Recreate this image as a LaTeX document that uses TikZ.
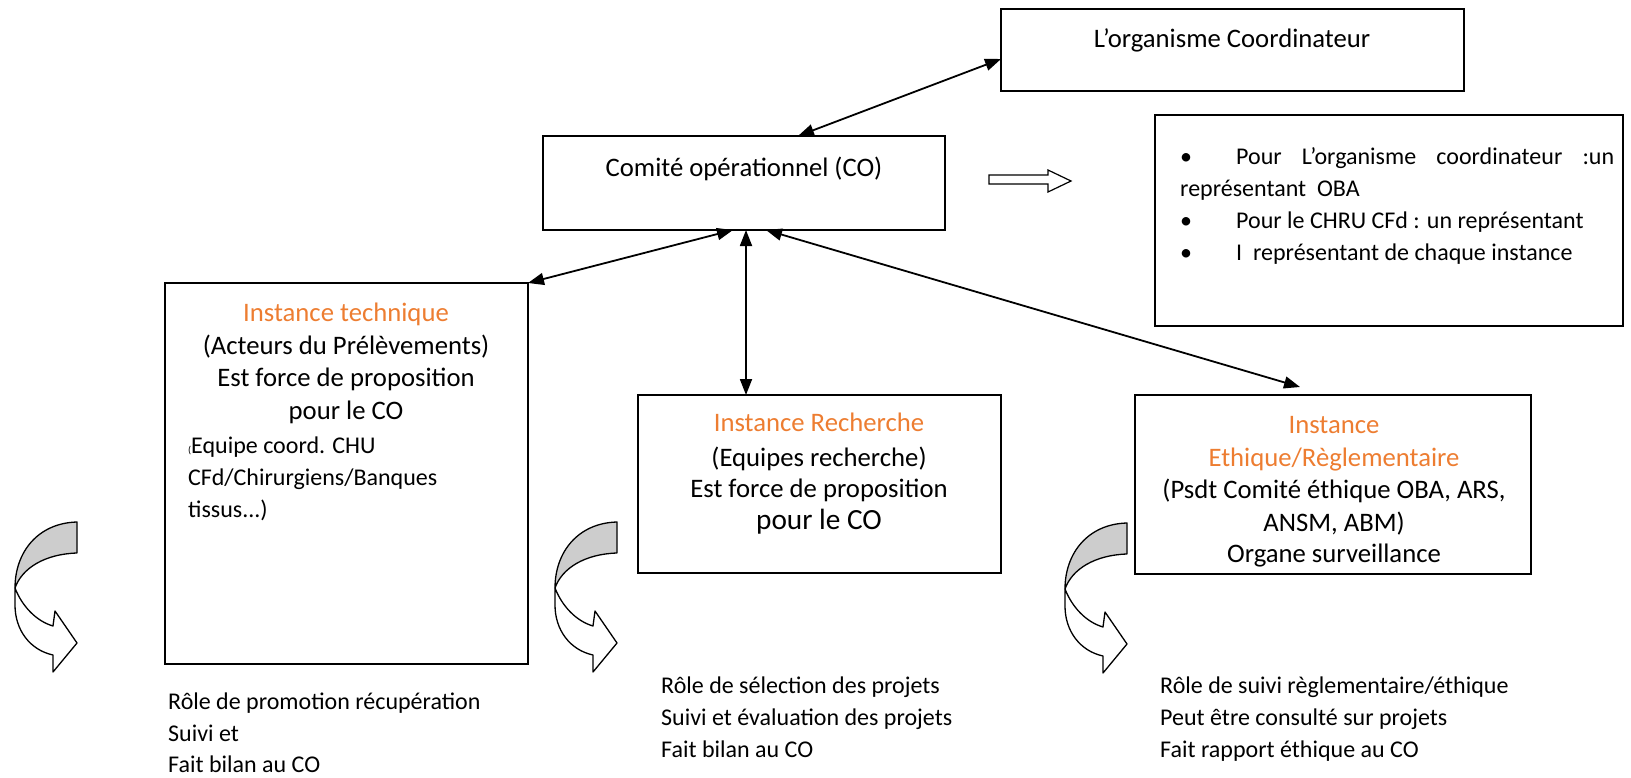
\documentclass[tikz,border=0pt]{standalone}
\usepackage{fontspec}
\setmainfont{Carlito}
\usetikzlibrary{arrows.meta}
\definecolor{orng}{RGB}{237,125,49}
\definecolor{arrgray}{RGB}{205,205,205}
\newcommand{\mycurvedarrow}[2]{%
\begin{scope}[shift={(#1,#2)}]
\draw[curv, fill=arrgray] (77,522) .. controls (38,523) and (15,552) .. (15,588) .. controls (22,568) and (45,554) .. (77,553) -- cycle;
\draw[curv, fill=white] (15,588) .. controls (22,606) and (36,621) .. (53,626) -- (55,611) -- (77,643) -- (53,672) -- (53,655) .. controls (30,650) and (15,630) .. (15,605) -- cycle;
\end{scope}}
\begin{document}
\begin{tikzpicture}[x=1pt,y=-1pt,
  box/.style={draw, line width=1.4pt, inner sep=0pt, outer sep=0pt, anchor=north west},
  big/.style={font=\fontsize{26.7}{32}\selectfont, inner sep=0pt, anchor=base},
  med/.style={font=\fontsize{24}{29}\selectfont, inner sep=0pt, anchor=base west},
  ttl/.style={big, text=orng},
  link/.style={line width=1.8pt, {Triangle[length=16pt,width=12pt]}-{Triangle[length=16pt,width=12pt]}},
  curv/.style={line width=1.3pt, line join=round}
]
\useasboundingbox (0,0) rectangle (1631,777);

% boxes
\node[box, minimum width=463pt, minimum height=82pt] (coord) at (1001,9) {};
\node[box, minimum width=402pt, minimum height=94pt] (co) at (543,136) {};
\node[box, minimum width=468pt, minimum height=211pt] (memb) at (1155,115) {};
\node[box, minimum width=363pt, minimum height=381pt] (tech) at (165,283) {};
\node[box, minimum width=363pt, minimum height=178pt] (rech) at (638,395) {};
\node[box, minimum width=396pt, minimum height=179pt] (ethi) at (1135,395) {};

% top texts
\node[big] (tcoord) at (1232,47) {L’organisme Coordinateur};
\node[big] (tco) at (744,176) {Comité opérationnel (CO)};

% members list
\node[med, anchor=base] (b1) at (1186,164) {\textbullet};
\node[med, anchor=base] (b2) at (1186,228) {\textbullet};
\node[med, anchor=base] (b3) at (1186,260) {\textbullet};
\node[med] (m1) at (1236,164) {\makebox[378pt][s]{Pour L’organisme coordinateur :un}};
\node[med] (m2) at (1180,196) {représentant\ \ OBA};
\node[med] (m3) at (1236,228) {Pour le CHRU CFd : un représentant};
\node[med] (m4) at (1236,260) {I\ \ représentant de chaque instance};

% instance technique
\node[ttl] (t1) at (346,321) {Instance technique};
\node[big] (t2) at (346,354) {(Acteurs du Prélèvements)};
\node[big] (t3) at (346,386) {Est force de proposition};
\node[big] (t4) at (346,419) {pour le CO};
\node[med] (t5) at (188,453) {{\fontsize{10}{12}\selectfont(}Equipe coord. CHU};
\node[med] (t6) at (188,485) {CFd/Chirurgiens/Banques};
\node[med] (t7) at (188,517) {tissus...)};

% instance recherche
\node[ttl] (r1) at (819,431) {Instance Recherche};
\node[big] (r2) at (819,466) {(Equipes recherche)};
\node[big] (r3) at (819,497) {Est force de proposition};
\node[big, font=\fontsize{29.3}{35}\selectfont] (r4) at (819,529) {pour le CO};

% instance ethique
\node[ttl] (e1) at (1334,433) {Instance};
\node[ttl] (e2) at (1334,466) {Ethique/Règlementaire};
\node[big] (e3) at (1334,498) {(Psdt Comité éthique OBA, ARS,};
\node[big] (e4) at (1334,531) {ANSM, ABM)};
\node[big] (e5) at (1334,562) {Organe surveillance};

% bottom texts
\node[med] (p1) at (168,709) {Rôle de promotion récupération};
\node[med] (p2) at (168,741) {Suivi et};
\node[med] (p3) at (168,772) {Fait bilan au CO};
\node[med] (s1) at (661,693) {Rôle de sélection des projets};
\node[med] (s2) at (661,725) {Suivi et évaluation des projets};
\node[med] (s3) at (661,757) {Fait bilan au CO};
\node[med] (u1) at (1160,693) {Rôle de suivi règlementaire/éthique};
\node[med] (u2) at (1160,725) {Peut être consulté sur projets};
\node[med] (u3) at (1160,757) {Fait rapport éthique au CO};

% connectors
\draw[link] ([xshift=54pt]co.north) -- ([yshift=-9pt]coord.west);
\draw[link] ([xshift=-11pt]co.south) -- (tech.north east);
\draw[link] ([xshift=2pt]co.south) -- ([xshift=2pt]co.south |- rech.north);
\draw[link] ([xshift=22pt]co.south) -- ([xshift=-33pt,yshift=8pt]ethi.north);

% hollow arrow
\draw[line width=1.2pt, fill=white, line join=miter] (989,175) -- (1048,175) -- (1048,170) -- (1071,181) -- (1048,192) -- (1048,184) -- (989,184) -- cycle;

% curved arrows
\mycurvedarrow{0}{0}
\mycurvedarrow{540}{0}
\mycurvedarrow{1050}{1}
\end{tikzpicture}
\end{document}
